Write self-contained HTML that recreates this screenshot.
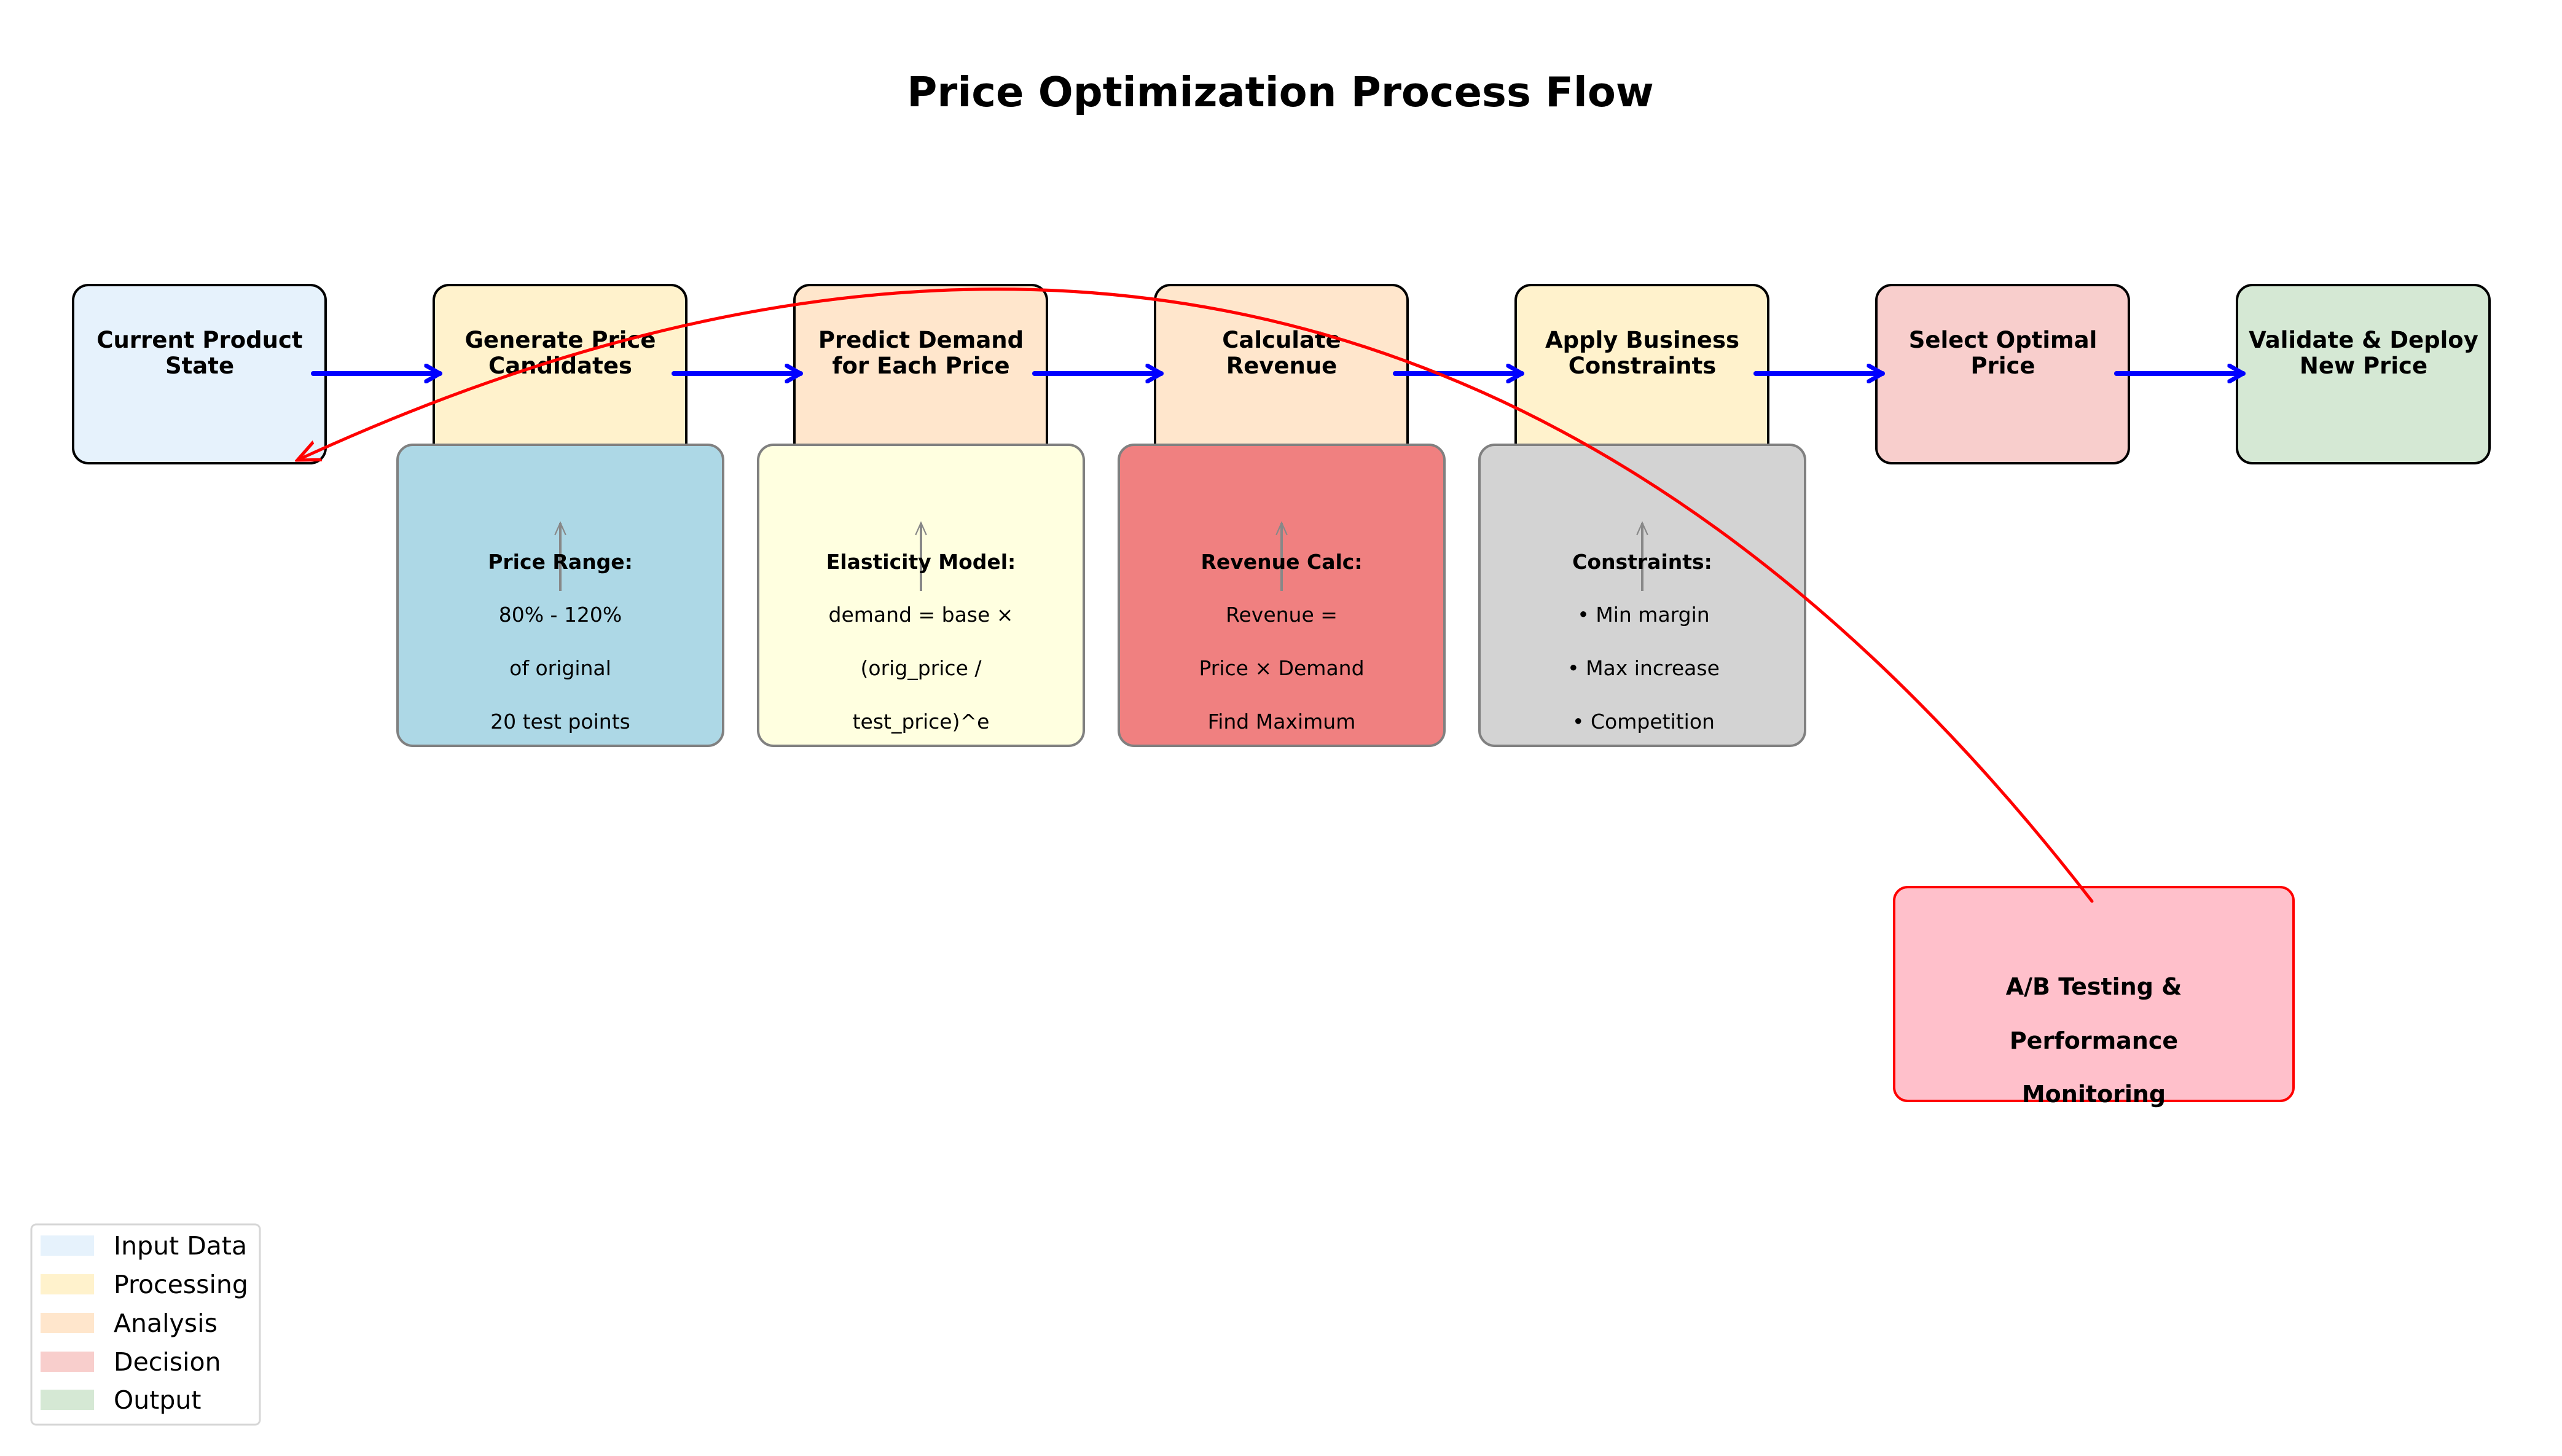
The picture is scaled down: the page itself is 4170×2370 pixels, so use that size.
<!DOCTYPE html>
<html><head><meta charset="utf-8"><style>
html,body{margin:0;padding:0;background:#fff;}
svg{display:block;}
text{font-family:"DejaVu Sans","Liberation Sans",sans-serif;}
</style></head><body>
<svg width="4170" height="2370" viewBox="0 0 4170 2370" xmlns="http://www.w3.org/2000/svg">
<defs>
<marker id="bh" viewBox="0 0 10 10" refX="8" refY="5" markerWidth="4" markerHeight="4" orient="auto" markerUnits="strokeWidth">
<path d="M1,1 L8,5 L1,9" fill="none" stroke="#0000ff" stroke-width="2.2" stroke-linecap="round" stroke-linejoin="round"/>
</marker>
<marker id="gh" viewBox="0 0 10 10" refX="9" refY="5" markerWidth="30" markerHeight="22" orient="auto" markerUnits="userSpaceOnUse">
<path d="M0,1 L9,5 L0,9" fill="none" stroke="#888" stroke-width="1"/>
</marker>
<marker id="rh" viewBox="0 0 10 10" refX="9" refY="5" markerWidth="8" markerHeight="8" orient="auto" markerUnits="strokeWidth">
<path d="M0,1 L9,5 L0,9" fill="none" stroke="#ff0000" stroke-width="1.3" stroke-linecap="round"/>
</marker>
</defs>
<rect width="4170" height="2370" fill="#fff"/>
<text x="2084" y="173" font-size="67" font-weight="bold" text-anchor="middle">Price Optimization Process Flow</text>

<g stroke="#000" stroke-width="4">
<rect x="119" y="464" width="411" height="290" rx="25" fill="#e6f2fc"/>
<rect x="706" y="464" width="411" height="290" rx="25" fill="#fff2cc"/>
<rect x="1293" y="464" width="411" height="290" rx="25" fill="#ffe6cc"/>
<rect x="1880" y="464" width="411" height="290" rx="25" fill="#ffe6cc"/>
<rect x="2467" y="464" width="411" height="290" rx="25" fill="#fff2cc"/>
<rect x="3054" y="464" width="411" height="290" rx="25" fill="#f8cecc"/>
<rect x="3641" y="464" width="411" height="290" rx="25" fill="#d5e8d4"/>
</g>
<g font-size="37" font-weight="bold" text-anchor="middle">
<text x="325" y="566">Current Product</text><text x="325" y="608">State</text>
<text x="912" y="566">Generate Price</text><text x="912" y="608">Candidates</text>
<text x="1499" y="566">Predict Demand</text><text x="1499" y="608">for Each Price</text>
<text x="2086" y="566">Calculate</text><text x="2086" y="608">Revenue</text>
<text x="2673" y="566">Apply Business</text><text x="2673" y="608">Constraints</text>
<text x="3260" y="566">Select Optimal</text><text x="3260" y="608">Price</text>
<text x="3847" y="566">Validate &amp; Deploy</text><text x="3847" y="608">New Price</text>
</g>
<g stroke="#0000ff" stroke-width="8" stroke-linecap="round" marker-end="url(#bh)">
<line x1="510" y1="608" x2="716" y2="608"/>
<line x1="1097" y1="608" x2="1303" y2="608"/>
<line x1="1684" y1="608" x2="1890" y2="608"/>
<line x1="2271" y1="608" x2="2477" y2="608"/>
<line x1="2858" y1="608" x2="3064" y2="608"/>
<line x1="3445" y1="608" x2="3651" y2="608"/>
</g>

<g stroke="#808080" stroke-width="4">
<rect x="647" y="724" width="530" height="490" rx="25" fill="#add8e6"/>
<rect x="1234" y="724" width="530" height="490" rx="25" fill="#ffffe0"/>
<rect x="1821" y="724" width="530" height="490" rx="25" fill="#f08080"/>
<rect x="2408" y="724" width="530" height="490" rx="25" fill="#d3d3d3"/>
</g>
<g stroke="#888" stroke-width="4" marker-end="url(#gh)">
<line x1="912" y1="962" x2="912" y2="851"/>
<line x1="1499" y1="962" x2="1499" y2="851"/>
<line x1="2086" y1="962" x2="2086" y2="851"/>
<line x1="2673" y1="962" x2="2673" y2="851"/>
</g>
<g font-size="33" text-anchor="middle">
<text x="912" y="926" font-weight="bold">Price Range:</text>
<text x="912" y="1012">80% - 120%</text>
<text x="912" y="1099">of original</text>
<text x="912" y="1186">20 test points</text>
<text x="1499" y="926" font-weight="bold">Elasticity Model:</text>
<text x="1499" y="1012">demand = base ×</text>
<text x="1499" y="1099">(orig_price /</text>
<text x="1499" y="1186">test_price)^e</text>
<text x="2086" y="926" font-weight="bold">Revenue Calc:</text>
<text x="2086" y="1012">Revenue =</text>
<text x="2086" y="1099">Price × Demand</text>
<text x="2086" y="1186">Find Maximum</text>
<text x="2673" y="926" font-weight="bold">Constraints:</text>
<text x="2675" y="1012">• Min margin</text>
<text x="2675" y="1099">• Max increase</text>
<text x="2675" y="1186">• Competition</text>
</g>

<rect x="3083" y="1444" width="650" height="348" rx="22" fill="#ffc0cb" stroke="#ff0000" stroke-width="4"/>
<g font-size="38" font-weight="bold" text-anchor="middle">
<text x="3408" y="1619">A/B Testing &amp;</text>
<text x="3408" y="1707">Performance</text>
<text x="3408" y="1794">Monitoring</text>
</g>

<path d="M3405,1467 Q2228,-56 484,749" fill="none" stroke="#ff0000" stroke-width="5" stroke-linecap="round" marker-end="url(#rh)"/>

<rect x="51" y="1993" width="372" height="326" rx="8" fill="#fff" stroke="#d6d6d6" stroke-width="3"/>
<rect x="66" y="2011" width="87" height="33" fill="#e6f2fc"/>
<rect x="66" y="2074" width="87" height="33" fill="#fff2cc"/>
<rect x="66" y="2137" width="87" height="33" fill="#ffe6cc"/>
<rect x="66" y="2200" width="87" height="33" fill="#f8cecc"/>
<rect x="66" y="2262" width="87" height="33" fill="#d5e8d4"/>
<g font-size="41">
<text x="185" y="2042">Input Data</text>
<text x="185" y="2105">Processing</text>
<text x="185" y="2168">Analysis</text>
<text x="185" y="2231">Decision</text>
<text x="185" y="2293">Output</text>
</g>
</svg>
</body></html>
